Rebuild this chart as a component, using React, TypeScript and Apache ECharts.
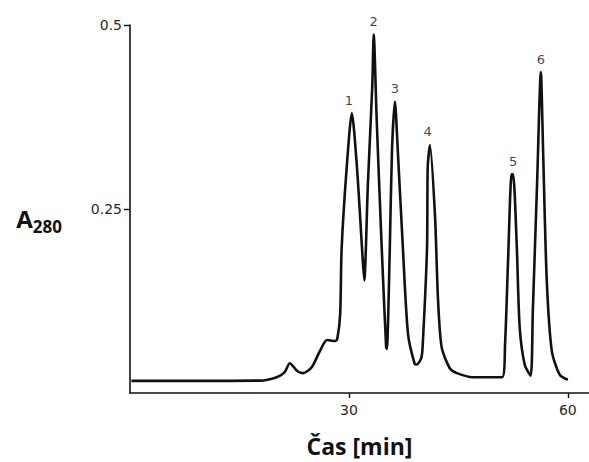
import React, { useEffect, useRef } from "react";
import * as echarts from "echarts";

// Chromatogram trace: time [min] and absorbance A280
const timeMin = [
  0.2, 9.6, 17.8, 20.1, 21.2, 21.9, 22.9, 23.7, 24.9, 26.0, 27.0, 28.1, 28.4,
  28.8, 29.0, 29.7, 30.4, 31.1, 31.8, 32.1, 32.6, 33.2, 33.4, 33.8, 34.5, 35.1,
  35.2, 35.6, 35.9, 36.3, 36.7, 37.4, 38.1, 39.0, 39.3, 39.9, 40.1, 40.7, 40.8,
  41.1, 41.8, 42.2, 42.7, 43.8, 44.8, 47.0, 51.0, 51.4, 51.8, 52.3, 52.5, 53.0,
  53.4, 54.1, 54.9, 55.2, 55.8, 56.3, 56.6, 57.1, 57.8, 58.9, 60.0,
];
const absorbance = [
  0.0165, 0.0165, 0.0168, 0.0215, 0.0285, 0.0405, 0.03, 0.027, 0.035, 0.0565,
  0.072, 0.0707, 0.0733, 0.107, 0.196, 0.307, 0.38, 0.307, 0.196, 0.153, 0.284,
  0.417, 0.487, 0.373, 0.196, 0.0627, 0.06, 0.196, 0.329, 0.396, 0.329, 0.196,
  0.08, 0.04, 0.0387, 0.047, 0.0627, 0.196, 0.307, 0.337, 0.24, 0.129, 0.0627,
  0.034, 0.027, 0.0215, 0.0215, 0.0667, 0.177, 0.297, 0.297, 0.2, 0.0893, 0.038,
  0.0235, 0.111, 0.289, 0.436, 0.333, 0.156, 0.0573, 0.0245, 0.018,
];

// Peak annotations
const peakNames = ["1", "2", "3", "4", "5", "6"];
const peakTimes = [30.0, 33.4, 36.3, 40.8, 52.5, 56.3];
const peakHeights = [0.38, 0.487, 0.396, 0.337, 0.297, 0.436];

// Axis ticks
const xTicks = [30, 60];
const yTicks = [0.25, 0.5];

export default function App() {
  const ref = useRef<HTMLDivElement>(null);

  useEffect(() => {
    if (!ref.current) return;
    const chart = echarts.init(ref.current, null, { renderer: "svg" });
    const lineData = timeMin.map((t, i) => [t, absorbance[i]]);
    const peakData = peakTimes.map((t, i) => ({
      value: [t, peakHeights[i]],
      name: peakNames[i],
    }));

    chart.setOption({
      animation: false,
      backgroundColor: "#ffffff",
      grid: { left: 130, right: 0, top: 25, bottom: 62, containLabel: false },
      xAxis: {
        type: "value",
        min: 0,
        max: 62.9,
        name: "Čas [min]",
        nameLocation: "middle",
        nameGap: 41,
        nameTextStyle: {
          fontFamily: "Open Sans",
          fontWeight: 700,
          fontSize: 23,
          color: "#111111",
        },
        splitLine: { show: false },
        axisLine: { show: true, onZero: false, lineStyle: { color: "#111111", width: 1.6 } },
        axisTick: {
          show: true,
          inside: false,
          length: 5,
          customValues: xTicks,
          lineStyle: { color: "#111111", width: 1.4 },
        },
        axisLabel: {
          show: true,
          customValues: xTicks,
          margin: 10,
          fontFamily: "DejaVu Sans",
          fontSize: 14,
          color: "#2a2a2a",
        },
      },
      yAxis: {
        type: "value",
        min: 0,
        max: 0.5,
        name: "{a|A}{s|280}",
        nameLocation: "middle",
        nameRotate: 0,
        nameGap: 68,
        nameTextStyle: {
          align: "right",
          padding: [18, 0, 0, 0],
          rich: {
            a: {
              fontFamily: "Open Sans",
              fontWeight: 700,
              fontSize: 24,
              color: "#111111",
            },
            s: {
              fontFamily: "Open Sans",
              fontWeight: 700,
              fontSize: 17,
              color: "#111111",
              padding: [16, 0, 0, 0],
            },
          },
        },
        splitLine: { show: false },
        axisLine: { show: true, lineStyle: { color: "#111111", width: 1.6 } },
        axisTick: {
          show: true,
          inside: false,
          length: 6,
          customValues: yTicks,
          lineStyle: { color: "#111111", width: 1.4 },
        },
        axisLabel: {
          show: true,
          customValues: yTicks,
          margin: 8,
          fontFamily: "DejaVu Sans",
          fontSize: 14,
          color: "#2a2a2a",
          formatter: (v: number) => String(v),
        },
      },
      series: [
        {
          type: "line",
          data: lineData,
          showSymbol: false,
          symbol: "none",
          smooth: 0.25,
          lineStyle: { color: "#111111", width: 2.6 },
          z: 2,
        },
        {
          type: "scatter",
          data: peakData,
          symbolSize: 1,
          itemStyle: { color: "rgba(0,0,0,0)" },
          label: {
            show: true,
            position: "top",
            distance: 6,
            formatter: (p: any) => p.name,
            fontFamily: "DejaVu Sans",
            fontSize: 13,
            color: "#111111",
          },
          z: 3,
        },
      ],
    });

    return () => chart.dispose();
  }, []);

  return (
    <div
      ref={ref}
      style={{ position: "fixed", left: 0, top: 0, width: 589, height: 462 }}
    />
  );
}
